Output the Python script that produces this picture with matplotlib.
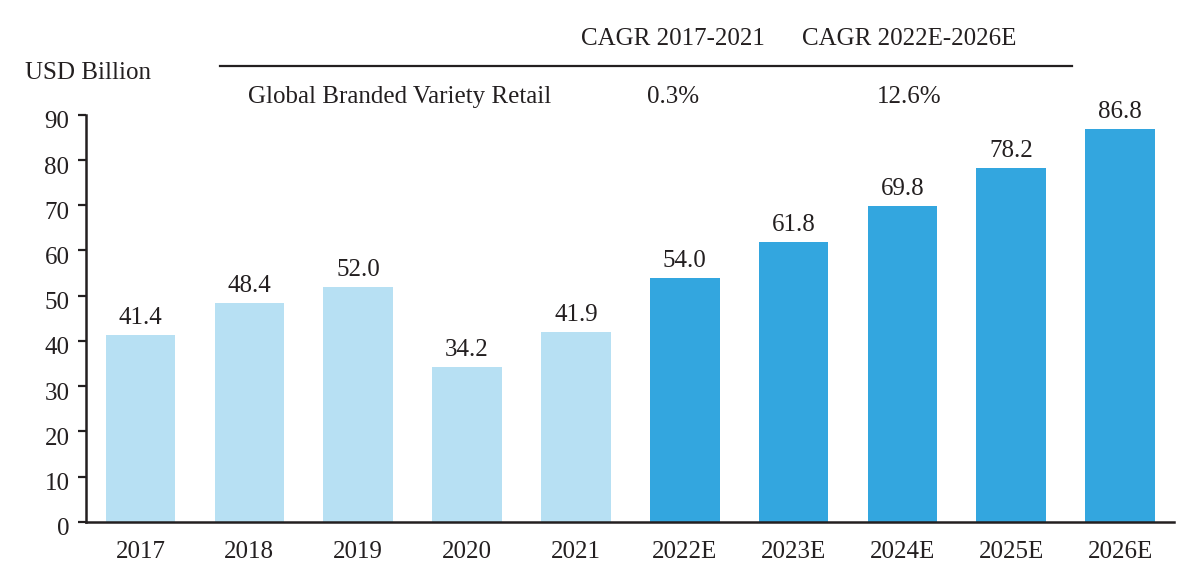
import numpy as np
import matplotlib.pyplot as plt
from matplotlib.transforms import ScaledTranslation

plt.rcParams['font.family'] = ['Liberation Serif', 'DejaVu Serif']

# dados
years = ['2017', '2018', '2019', '2020', '2021', '2022E', '2023E', '2024E', '2025E', '2026E']
values = [41.4, 48.4, 52.0, 34.2, 41.9, 54.0, 61.8, 69.8, 78.2, 86.8]
is_forecast = [False] * 5 + [True] * 5
cagr_headers = ['CAGR 2017-2021', 'CAGR 2022E-2026E']
cagr_values = ['0.3%', '12.6%']
row_label = 'Global Branded Variety Retail'

light = '#B7E0F3'
dark = '#33A6DF'
txt = '#231F20'
fs = 18

fig = plt.figure(figsize=(11.96, 5.86), dpi=100)
ax = fig.add_axes([0.072, 0.1097, 0.910, 0.6943])

x = np.arange(len(years))
colors = [dark if f else light for f in is_forecast]
bars = ax.bar(x, values, width=0.64, color=colors, zorder=2)

for xi, v in zip(x, values):
    ax.text(xi, v + 1.3, f'{v:.1f}', ha='center', va='bottom', fontsize=fs, color=txt)

ax.set_xlim(-0.5, len(years) - 0.5)
ax.set_ylim(0, 90)
ax.set_yticks(np.arange(0, 91, 10))
ax.set_xticks(x)
ax.set_xticklabels(years)
ax.tick_params(axis='y', direction='out', length=6, width=1.6, labelsize=fs, colors=txt, pad=6)
ax.tick_params(axis='x', length=0, labelsize=fs, colors=txt, pad=14)
# rótulos do eixo y um pouco abaixo do tick, como no original
offset = ScaledTranslation(0, -5 / 100, fig.dpi_scale_trans)
for lab in ax.get_yticklabels():
    lab.set_transform(lab.get_transform() + offset)
for s in ['top', 'right']:
    ax.spines[s].set_visible(False)
ax.spines['left'].set_linewidth(1.8)
ax.spines['bottom'].set_linewidth(1.8)
ax.spines['left'].set_color(txt)
ax.spines['bottom'].set_color(txt)

# cabecalho CAGR
fig.text(25 / 1196, 1 - 73 / 586, 'USD Billion', fontsize=fs, color=txt, va='center', ha='left')
cx = [673 / 1196, 909 / 1196]
for c, h, v in zip(cx, cagr_headers, cagr_values):
    fig.text(c, 1 - 39 / 586, h, fontsize=fs, color=txt, ha='center', va='center')
    fig.text(c, 1 - 97 / 586, v, fontsize=fs, color=txt, ha='center', va='center')
fig.text(248 / 1196, 1 - 97 / 586, row_label, fontsize=fs, color=txt, ha='left', va='center')
fig.add_artist(plt.Line2D([220 / 1196, 1072 / 1196], [1 - 66 / 586, 1 - 66 / 586],
                          transform=fig.transFigure, color=txt, linewidth=1.6))

fig.savefig('out.png', dpi=100)
